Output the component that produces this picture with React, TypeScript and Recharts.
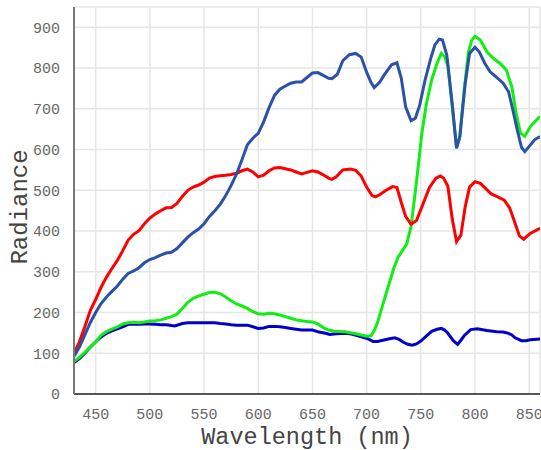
import React from 'react';
import { LineChart, Line, XAxis, YAxis, CartesianGrid } from 'recharts';

const xTicks = [450, 500, 550, 600, 650, 700, 750, 800, 850];
const yTicks = [0, 100, 200, 300, 400, 500, 600, 700, 800, 900];

const redWl = [430, 435, 440, 445, 450, 455, 460, 465, 470, 475, 480, 485, 490, 495, 500, 505, 510, 515, 520, 525, 530, 535, 540, 545, 550, 555, 560, 565, 570, 575, 580, 585, 590, 595, 600, 605, 610, 615, 620, 625, 630, 635, 640, 645, 650, 655, 660, 665, 668, 672, 678, 685, 690, 695, 700, 705, 708, 712, 718, 724, 728, 732, 736, 741, 746, 752, 758, 764, 768, 771, 775, 779, 783, 787, 791, 795, 800, 805, 810, 815, 821, 827, 832, 837, 841, 845, 851, 860];
const redVal = [100, 128, 165, 205, 232, 262, 287, 308, 328, 352, 378, 392, 401, 418, 432, 442, 450, 457, 458, 468, 485, 500, 508, 513, 520, 530, 534, 536, 537, 539, 542, 548, 552, 545, 533, 537, 548, 555, 556, 553, 550, 545, 540, 544, 548, 545, 538, 530, 527, 533, 550, 552, 549, 535, 508, 487, 484, 489, 500, 509, 507, 470, 436, 417, 426, 466, 507, 530, 535, 530, 510, 430, 374, 390, 460, 508, 521, 517, 504, 491, 484, 476, 457, 419, 388, 380, 394, 407];

const royalWl = [430, 435, 440, 445, 450, 455, 460, 465, 470, 475, 480, 485, 490, 495, 500, 505, 510, 515, 520, 525, 530, 535, 540, 545, 550, 555, 560, 565, 570, 575, 580, 585, 590, 595, 600, 605, 610, 615, 620, 625, 630, 635, 640, 645, 650, 655, 660, 665, 668, 673, 678, 684, 690, 695, 700, 704, 707, 712, 716, 723, 728, 732, 736, 741, 745, 749, 754, 759, 763, 767, 770, 774, 779, 783, 786, 791, 795, 800, 804, 809, 814, 820, 826, 831, 835, 839, 843, 846, 851, 855, 860];
const royalVal = [93, 115, 145, 175, 200, 222, 238, 252, 265, 282, 296, 302, 310, 322, 330, 335, 341, 346, 348, 357, 371, 385, 396, 405, 418, 436, 450, 466, 487, 512, 540, 575, 612, 628, 640, 668, 703, 733, 748, 756, 763, 766, 766, 777, 788, 789, 782, 775, 774, 785, 818, 833, 836, 827, 790, 765, 752, 765, 782, 808, 813, 775, 705, 671, 677, 709, 771, 822, 857, 871, 869, 832, 713, 603, 632, 763, 836, 851, 840, 812, 791, 777, 763, 742, 697, 648, 605, 595, 611, 624, 632];

const greenWl = [430, 435, 440, 445, 450, 455, 460, 465, 470, 475, 480, 485, 490, 495, 500, 505, 510, 515, 520, 525, 530, 535, 540, 545, 550, 555, 560, 565, 570, 575, 580, 585, 590, 595, 600, 605, 610, 615, 620, 625, 630, 635, 640, 645, 650, 655, 660, 665, 670, 680, 690, 700, 704, 707, 710, 715, 720, 725, 729, 733, 737, 741, 746, 751, 755, 760, 765, 769, 772, 775, 779, 783, 786, 790, 794, 797, 800, 805, 811, 817, 823, 829, 834, 838, 842, 846, 851, 855, 860];
const greenVal = [80, 90, 102, 115, 128, 144, 153, 159, 165, 172, 175, 176, 175, 177, 179, 180, 182, 186, 190, 196, 210, 225, 235, 241, 245, 249, 250, 246, 238, 229, 221, 216, 210, 202, 197, 196, 198, 197, 194, 190, 186, 182, 180, 178, 177, 172, 163, 157, 154, 153, 148, 142, 143, 155, 175, 220, 264, 308, 335, 352, 368, 411, 520, 640, 710, 771, 812, 836, 828, 805, 705, 605, 630, 745, 840, 868, 878, 869, 840, 824, 812, 795, 754, 689, 640, 633, 656, 668, 681];

const navyWl = [430, 435, 440, 445, 450, 455, 460, 465, 470, 475, 480, 485, 490, 495, 500, 505, 510, 515, 520, 523, 530, 535, 540, 550, 560, 565, 570, 575, 580, 590, 595, 600, 605, 610, 615, 620, 625, 630, 635, 640, 650, 656, 662, 666, 672, 681, 686, 692, 700, 706, 710, 715, 720, 726, 730, 734, 738, 742, 746, 750, 755, 760, 765, 769, 772, 775, 780, 784, 787, 790, 796, 802, 811, 820, 826, 831, 834, 837, 843, 847, 851, 860];
const navyVal = [77, 87, 100, 115, 128, 140, 149, 155, 160, 165, 171, 172, 171, 172, 172, 171, 170, 170, 168, 167, 173, 175, 175, 175, 175, 173, 172, 170, 169, 169, 165, 161, 162, 166, 166, 165, 163, 161, 159, 157, 157, 152, 149, 146, 148, 149, 147, 143, 137, 129, 129, 132, 135, 138, 134, 127, 122, 120, 123, 130, 142, 154, 159, 161, 157, 149, 131, 122, 132, 143, 158, 160, 156, 153, 152, 149, 145, 138, 131, 131, 133, 135];

const toData = (wl: number[], val: number[]) => wl.map((w, i) => ({ wl: w, v: val[i] }));

const redData = toData(redWl, redVal);
const royalData = toData(royalWl, royalVal);
const greenData = toData(greenWl, greenVal);
const navyData = toData(navyWl, navyVal);

const FONT = '"Liberation Mono", "DejaVu Sans Mono", monospace';

const YLabel = () => (
  <text
    x={27}
    y={207}
    transform="rotate(-90, 27, 207)"
    textAnchor="middle"
    fill="#444"
    fontSize={24}
    fontFamily={FONT}
  >
    Radiance
  </text>
);

const XLabel = () => (
  <text x={307} y={444} textAnchor="middle" fill="#444" fontSize={23.5} fontFamily={FONT}>
    Wavelength (nm)
  </text>
);

export default function App() {
  return (
    <div style={{ position: 'absolute', left: 0, top: 0, width: 541, height: 450, background: '#fff' }}>
      <LineChart width={541} height={450} margin={{ top: 7, right: 1, bottom: 0, left: 0 }}>
        <CartesianGrid stroke="#e6e6e6" strokeWidth={1.5} />
        <XAxis
          type="number"
          dataKey="wl"
          domain={[430, 860]}
          ticks={xTicks}
          allowDataOverflow
          height={56}
          tickLine={false}
          axisLine={{ stroke: '#555', strokeWidth: 2 }}
          tick={{ fill: '#666', fontSize: 15, fontFamily: FONT }}
          tickMargin={8}
          label={{ content: XLabel }}
        />
        <YAxis
          type="number"
          domain={[0, 950]}
          ticks={yTicks}
          allowDataOverflow
          width={74}
          tickLine={false}
          axisLine={{ stroke: '#777', strokeWidth: 2 }}
          tick={{ fill: '#666', fontSize: 15, fontFamily: FONT }}
          tickMargin={8}
          label={{ content: YLabel }}
        />
        <Line data={navyData} dataKey="v" type="linear" stroke="#0000c8" strokeWidth={3} dot={false} isAnimationActive={false} />
        <Line data={greenData} dataKey="v" type="linear" stroke="#11ee11" strokeWidth={3} dot={false} isAnimationActive={false} />
        <Line data={redData} dataKey="v" type="linear" stroke="#ff0000" strokeWidth={3} dot={false} isAnimationActive={false} />
        <Line data={royalData} dataKey="v" type="linear" stroke="#2b52a6" strokeWidth={3} dot={false} isAnimationActive={false} />
      </LineChart>
    </div>
  );
}
